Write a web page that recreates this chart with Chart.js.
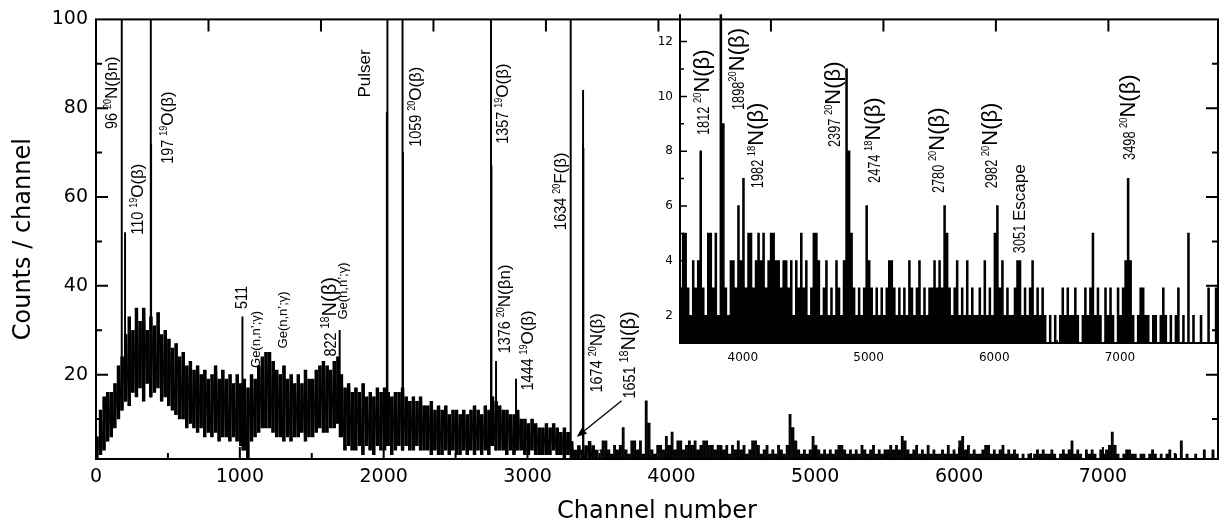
<!DOCTYPE html>
<html>
<head>
<meta charset="utf-8">
<script src="https://cdn.jsdelivr.net/npm/chart.js@4.4.1/dist/chart.umd.min.js"></script>
<style>
  html, body { margin: 0; padding: 0; background: #fff; }
  #wrap { position: relative; width: 1221px; height: 531px; }
  #main { position: absolute; left: 0; top: 0; }
  #inset { position: absolute; left: 630px; top: 0; }
</style>
</head>
<body>
<div id="wrap">
  <canvas id="main" width="1221" height="531"></canvas>
  <canvas id="inset" width="591" height="380"></canvas>
</div>
<script>
// spectrum below channel 3500: low / high envelope per 25-channel bin
const mainBin = 25;
const mainLo = [1,2,3,5, 6,8,10,12, 14,13,16,15, 17,14,18,15, 16,17,14,15, 13,12,11,10, 10,8,9,8, 7,8,6,7,
  6,7,5,6, 6,5,6,5, 4,3,1,5, 6,7,8,8, 8,7,6,6, 5,6,5,6, 6,7,5,6, 6,7,8,7, 7,8,8,9, 6,3,4,3, 3,4,2,4,
  3,2,4,3, 3,4,2,3, 4,3,4,3, 3,4,3,3, 3,2,3,2, 2,3,2,3, 2,2,3,2, 3,2,3,2, 3,2,4,3, 3,3,2,3, 2,3,3,2,
  2,3,2,2, 2,2,2,3, 2,2,1,2, 1,0,1,1, 1,1,0,1];
const mainHi = [6,12,15,16, 16,18,22,24, 29,33,30,35, 32,35,30,33, 31,34,29,30, 28,26,27,24, 25,22,23,21, 22,20,21,19,
  20,22,19,21, 19,20,18,20, 18,19,17,20, 19,22,24,25, 25,23,21,20, 22,19,20,18, 20,18,21,19, 19,21,22,23, 22,21,23,24,
  20,17,18,16, 17,16,18,15, 16,15,17,16, 17,16,15,16, 16,17,15,14, 15,14,15,13, 13,14,12,13, 12,13,11,12, 12,11,12,11,
  12,13,12,11, 13,12,15,14, 13,12,12,11, 11,12,10,10, 9,10,9,8, 8,9,8,9, 8,7,8,7, 5,3,4,3, 4,5,4,3];

// narrow lines below channel 3500
const peakCh  = [179, 202, 381, 383, 1018, 1694, 2022, 2026, 2131, 2134, 2746, 2749, 2781, 2920, 3300, 3386, 3388];
const peakTop = [130,  52, 130,  72,   33,   30,   79,  130,  130,   70,  130,   67,   23,   19,  130,   84,   71];

// channels 3500..7780: highest count per 20-channel bin
const tailStart = 3500;
const tailBin = 20;
const tailFloor = 0;
const tailHi = [
  3,5,5,3,2,4,3,4,8,3,2,5,5,3,5,2,14,9,3,2,4,4,3,6,4,
  7,3,5,5,3,4,5,4,5,3,4,5,5,4,4,3,4,4,3,4,2,4,3,5,3,
  4,2,3,5,5,4,2,3,4,2,3,2,4,3,2,4,11,8,5,3,2,3,2,3,6,
  4,3,2,3,2,3,2,3,4,4,3,2,3,2,3,2,4,3,2,3,4,2,3,2,3,
  3,4,3,4,3,6,5,3,2,3,4,2,3,2,4,2,3,2,2,3,2,4,2,3,2,
  5,6,3,4,2,3,2,2,3,4,4,2,3,2,3,4,2,3,2,3,2,1,2,1,2,
  1,2,3,2,3,2,2,3,2,1,2,3,2,3,5,2,3,2,1,3,2,3,2,1,3,
  2,3,4,7,4,2,1,2,3,3,2,2,1,2,2,1,2,3,2,1,2,1,2,3,1,
  2,1,5,1,2,1,1,2,1,1,3,1,1,3];

const mainXTicks = [0,1000,2000,3000,4000,5000,6000,7000];
const mainYTicks = [20,40,60,80,100];
const insetXTicks = [4000,5000,6000,7000];
const insetYTicks = [2,4,6,8,10,12];
const topTickStep = 782;

// rotated peak labels: [channel, counts] of the text start, then text parts
const mainNotes = [
  [146, 75.3, [['96 ','num'],['20','sup'],['N(βn)','txt']]],
  [327, 51.5, [['110 ','num'],['19','sup'],['O(β)','txt']]],
  [535, 67.5, [['197 ','num'],['19','sup'],['O(β)','txt']]],
  [1905, 82.4, [['Pulser','txt']]],
  [2259, 71.3, [['1059 ','num'],['20','sup'],['O(β)','txt']]],
  [2864, 72.0, [['1357 ','num'],['19','sup'],['O(β)','txt']]],
  [3267, 52.6, [['1634 ','num'],['20','sup'],['F(β)','txt']]],
  [2878, 24.8, [['1376 ','num'],['20','sup'],['N(βn)','txt']]],
  [3038, 16.4, [['1444 ','num'],['19','sup'],['O(β)','txt']]],
  [3518, 16.0, [['1674 ','num'],['20','sup'],['N(β)','txt']]],
  [3747, 14.6, [['1651 ','num'],['18','bigsup'],['N(β)','big']]],
  [1050, 34.8, [['511','num']]],
  [1140, 21.5, [['Ge(n,n’;γ)','small']]],
  [1328, 25.9, [['Ge(n,n’;γ)','small']]],
  [1668, 24.1, [['822 ','num'],['18','bigsup'],['N(β)','big']]],
  [1745, 32.4, [['Ge(n,n’;γ)','small']]]
];
const arrowFrom = [3654, 14.1];
const arrowTo = [3342, 6.0];

const insetNotes = [
  [3731, 8.59, [['1812 ','num'],['20','sup'],['N(β)','big']]],
  [4010, 9.50, [['1898','num'],['20','sup'],['N(β)','big']]],
  [4161, 6.65, [['1982 ','num'],['18','sup'],['N(β)','big']]],
  [4774, 8.15, [['2397 ','num'],['20','sup'],['N(β)','big']]],
  [5092, 6.84, [['2474 ','num'],['18','sup'],['N(β)','big']]],
  [5602, 6.47, [['2780 ','num'],['20','sup'],['N(β)','big']]],
  [6024, 6.65, [['2982 ','num'],['20','sup'],['N(β)','big']]],
  [6247, 4.28, [['3051 ','num'],['Escape','txt']]],
  [7123, 7.68, [['3498 ','num'],['20','sup'],['N(β)','big']]]
];

const mainStyles = { num:[16,0.9,0], sup:[10,0.9,6], txt:[17,1,0], big:[20,1,0], bigsup:[12,0.9,7], small:[13,1,0] };
const insetStyles = { num:[16,0.8,0], sup:[11,0.85,8], txt:[17,1,0], big:[22,1,0] };

// build the drawn points
const mainPts = [];
const bandPts = [];
mainHi.forEach((h, i) => {
  mainPts.push({x: i * mainBin, y: mainLo[i]});
  mainPts.push({x: i * mainBin + mainBin / 2, y: h});
  bandPts.push({x: i * mainBin + mainBin / 4, y: [mainLo[i], h]});
});
const tailPts = [];
tailHi.forEach((h, i) => {
  const c = tailStart + i * tailBin;
  tailPts.push({x: c, y: h});
  tailPts.push({x: c + tailBin / 2, y: tailFloor});
});
const peakPts = peakCh.map((c, i) => ({x: c, y: [mainLo[Math.min(mainLo.length - 1, Math.round(c / mainBin))], peakTop[i]]}));

Chart.defaults.font.family = '"DejaVu Sans", sans-serif';
Chart.defaults.color = '#000';

function vText(ctx, px, py, parts, styles){
  ctx.save();
  ctx.translate(px, py);
  ctx.rotate(-Math.PI / 2);
  ctx.fillStyle = '#000';
  ctx.textBaseline = 'alphabetic';
  ctx.textAlign = 'left';
  let cur = 0;
  parts.forEach(([t, kind]) => {
    const [size, sq, raise] = styles[kind];
    ctx.font = size + 'px "Liberation Sans", Arial, sans-serif';
    ctx.save();
    ctx.translate(cur, -raise);
    ctx.scale(sq, 1);
    ctx.fillText(t, 0, 0);
    ctx.restore();
    cur += ctx.measureText(t).width * sq;
  });
  ctx.restore();
}

const mainDecor = {
  id: 'mainDecor',
  afterDraw(chart){
    const {ctx, chartArea: a, scales: {x, y}} = chart;
    ctx.save();
    ctx.strokeStyle = '#000';
    ctx.lineWidth = 2;
    ctx.strokeRect(a.left, a.top, a.right - a.left, a.bottom - a.top);
    ctx.beginPath();
    for (let v = 500; v < 7800; v += 500){
      const px = x.getPixelForValue(v);
      const len = v % 1000 === 0 ? 12 : 6;
      ctx.moveTo(px, a.bottom); ctx.lineTo(px, a.bottom - len);
    }
    for (let v = 10; v < 100; v += 10){
      const py = y.getPixelForValue(v);
      const len = v % 20 === 0 ? 12 : 6;
      ctx.moveTo(a.left, py); ctx.lineTo(a.left + len, py);
      ctx.moveTo(a.right, py); ctx.lineTo(a.right - len, py);
    }
    for (let k = 1; k * topTickStep < 7800; k++){
      const px = x.getPixelForValue(k * topTickStep);
      ctx.moveTo(px, a.top); ctx.lineTo(px, a.top + 12);
    }
    ctx.stroke();

    mainNotes.forEach(([c, n, parts]) => vText(ctx, x.getPixelForValue(c), y.getPixelForValue(n), parts, mainStyles));

    // arrow to the 1651 line
    const x0 = x.getPixelForValue(arrowFrom[0]), y0 = y.getPixelForValue(arrowFrom[1]);
    const x1 = x.getPixelForValue(arrowTo[0]), y1 = y.getPixelForValue(arrowTo[1]);
    const ang = Math.atan2(y1 - y0, x1 - x0);
    ctx.lineWidth = 1.3;
    ctx.beginPath();
    ctx.moveTo(x0, y0);
    ctx.lineTo(x1 - 7 * Math.cos(ang), y1 - 7 * Math.sin(ang));
    ctx.stroke();
    ctx.beginPath();
    ctx.moveTo(x1, y1);
    ctx.lineTo(x1 - 10 * Math.cos(ang) + 4 * Math.sin(ang), y1 - 10 * Math.sin(ang) - 4 * Math.cos(ang));
    ctx.lineTo(x1 - 10 * Math.cos(ang) - 4 * Math.sin(ang), y1 - 10 * Math.sin(ang) + 4 * Math.cos(ang));
    ctx.closePath();
    ctx.fillStyle = '#000';
    ctx.fill();
    ctx.restore();
  }
};

const insetDecor = {
  id: 'insetDecor',
  afterDraw(chart){
    const {ctx, chartArea: a, scales: {x, y}} = chart;
    ctx.save();
    ctx.strokeStyle = '#000';
    ctx.lineWidth = 2;
    ctx.beginPath();
    ctx.moveTo(a.left, a.top); ctx.lineTo(a.left, a.bottom); ctx.lineTo(a.right, a.bottom);
    ctx.stroke();
    ctx.lineWidth = 1.5;
    ctx.beginPath();
    for (let v = 2; v <= 12; v++){
      const py = y.getPixelForValue(v);
      const len = v % 2 === 0 ? 7 : 4;
      ctx.moveTo(a.left, py); ctx.lineTo(a.left + len, py);
    }
    for (let v = 4000; v < 7800; v += 500){
      const px = x.getPixelForValue(v);
      const len = v % 1000 === 0 ? 5 : 3;
      ctx.moveTo(px, a.bottom); ctx.lineTo(px, a.bottom - len);
    }
    ctx.stroke();
    insetNotes.forEach(([c, n, parts]) => vText(ctx, x.getPixelForValue(c), y.getPixelForValue(n), parts, insetStyles));
    ctx.restore();
  }
};

new Chart(document.getElementById('main'), {
  type: 'line',
  data: {
    datasets: [
      { data: mainPts, borderColor: '#000', borderWidth: 1, pointRadius: 0, tension: 0 },
      { data: tailPts, borderColor: '#000', borderWidth: 1.4, pointRadius: 0, stepped: true },
      { type: 'bar', data: bandPts, backgroundColor: '#000', borderWidth: 0, barThickness: 2.8, grouped: false },
      { type: 'bar', data: peakPts, backgroundColor: '#000', borderWidth: 0, barThickness: 1.3, grouped: false }
    ]
  },
  options: {
    responsive: false, animation: false, devicePixelRatio: 1,
    layout: { padding: { top: 14, right: 3, left: 0, bottom: 0 } },
    plugins: { legend: { display: false }, tooltip: { enabled: false } },
    scales: {
      x: {
        type: 'linear', min: 0, max: 7800, offset: false,
        grid: { display: false, drawTicks: false }, border: { display: false },
        afterBuildTicks: s => { s.ticks = mainXTicks.map(v => ({ value: v })); },
        afterFit: s => { s.height = 72; },
        ticks: { font: { size: 19 }, padding: 7, maxRotation: 0, autoSkip: false, callback: v => String(v) },
        title: { display: true, text: 'Channel number', font: { size: 24 }, padding: { top: 0, bottom: 5 } }
      },
      y: {
        type: 'linear', min: 1, max: 100,
        grid: { display: false, drawTicks: false }, border: { display: false },
        afterBuildTicks: s => { s.ticks = mainYTicks.map(v => ({ value: v })); },
        afterFit: s => { s.width = 96; },
        ticks: { font: { size: 19 }, padding: 8, callback: v => String(v) },
        title: { display: true, text: 'Counts / channel', font: { size: 24 }, padding: { top: 9, bottom: 0 } }
      }
    }
  },
  plugins: [mainDecor]
});

new Chart(document.getElementById('inset'), {
  type: 'line',
  data: {
    datasets: [
      { data: tailPts, borderColor: '#000', borderWidth: 1.3, pointRadius: 0, stepped: true }
    ]
  },
  options: {
    responsive: false, animation: false, devicePixelRatio: 1,
    layout: { padding: { top: 14, right: 3, left: 0, bottom: 0 } },
    plugins: { legend: { display: false }, tooltip: { enabled: false } },
    scales: {
      x: {
        type: 'linear', min: 3500, max: 7780,
        grid: { display: false, drawTicks: false }, border: { display: false },
        afterBuildTicks: s => { s.ticks = insetXTicks.map(v => ({ value: v })); },
        afterFit: s => { s.height = 37; },
        ticks: { font: { size: 12 }, padding: 8, maxRotation: 0, autoSkip: false, callback: v => String(v) }
      },
      y: {
        type: 'linear', min: 1, max: 13,
        grid: { display: false, drawTicks: false }, border: { display: false },
        afterBuildTicks: s => { s.ticks = insetYTicks.map(v => ({ value: v })); },
        afterFit: s => { s.width = 50; },
        ticks: { font: { size: 12 }, padding: 7, callback: v => String(v) }
      }
    }
  },
  plugins: [insetDecor]
});
</script>
</body>
</html>
